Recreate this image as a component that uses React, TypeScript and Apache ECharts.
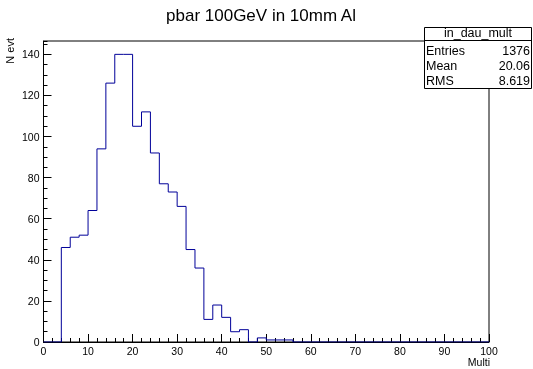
import React, { useEffect, useRef } from "react";
import * as echarts from "echarts";

const titleText = "pbar 100GeV in 10mm Al";
const histName = "in_dau_mult";
const statLabels = ["Entries", "Mean", "RMS"];
const statValues = ["1376", "20.06", "8.619"];
const xTitle = "Multi";
const yTitle = "N evt";
const binLow = 0;
const binWidth = 2;
const counts = [
  0, 0, 46, 51, 52, 64, 94, 126, 140, 140,
  105, 112, 92, 77, 73, 66, 45, 36, 11, 18,
  12, 5, 6, 0, 2, 1, 1, 1, 0, 0,
  0, 0, 0, 0, 0, 0, 0, 0, 0, 0,
  0, 0, 0, 0, 0, 0, 0, 0, 0, 0,
];

const FONT = "Liberation Sans, Arial, Helvetica, sans-serif";

export default function App() {
  const ref = useRef<HTMLDivElement>(null);
  useEffect(() => {
    if (!ref.current) return;
    const chart = echarts.init(ref.current, null, { renderer: "svg" });
    const pts: [number, number][] = counts.map((c, i) => [binLow + i * binWidth, c]);
    pts.push([binLow + counts.length * binWidth, counts[counts.length - 1]]);

    const rowY = [51, 66, 81];
    const graphics: any[] = [
      {
        type: "text",
        x: 261,
        y: 15,
        style: { text: titleText, font: `17px ${FONT}`, fill: "#000", textAlign: "center", textVerticalAlign: "middle" },
      },
      {
        type: "text",
        x: 10,
        y: 38,
        rotation: Math.PI / 2,
        style: { text: yTitle, font: `11px ${FONT}`, fill: "#000", textAlign: "right", textVerticalAlign: "middle" },
      },
      {
        type: "text",
        x: 490,
        y: 362,
        style: { text: xTitle, font: `10.5px ${FONT}`, fill: "#000", textAlign: "right", textVerticalAlign: "middle" },
      },
      {
        type: "rect",
        shape: { x: 424.5, y: 27.5, width: 107, height: 61 },
        style: { fill: "#fff", stroke: "#000", lineWidth: 1 },
        z: 100,
      },
      {
        type: "line",
        shape: { x1: 424.5, y1: 40.5, x2: 531.5, y2: 40.5 },
        style: { stroke: "#000", lineWidth: 1 },
        z: 101,
      },
      {
        type: "text",
        x: 478,
        y: 32.5,
        z: 101,
        style: { text: histName, font: `12.5px ${FONT}`, fill: "#000", textAlign: "center", textVerticalAlign: "middle" },
      },
    ];
    statLabels.forEach((l, i) => {
      graphics.push({
        type: "text", x: 426, y: rowY[i], z: 101,
        style: { text: l, font: `12.5px ${FONT}`, fill: "#000", textAlign: "left", textVerticalAlign: "middle" },
      });
      graphics.push({
        type: "text", x: 530, y: rowY[i], z: 101,
        style: { text: statValues[i], font: `12.5px ${FONT}`, fill: "#000", textAlign: "right", textVerticalAlign: "middle" },
      });
    });

    chart.setOption({
      animation: false,
      grid: {
        left: 43.5, right: 44, top: 41, bottom: 27,
        show: true, borderColor: "#000", borderWidth: 1, backgroundColor: "transparent",
      },
      xAxis: {
        type: "value", min: 0, max: 100, interval: 10,
        axisLine: { show: true, lineStyle: { color: "#000", width: 1 } },
        axisTick: { show: true, inside: true, length: 8, lineStyle: { color: "#000" } },
        minorTick: { show: true, splitNumber: 5, length: 4, lineStyle: { color: "#000" } },
        splitLine: { show: false },
        axisLabel: { color: "#000", fontSize: 10.5, fontFamily: FONT, margin: 3 },
      },
      yAxis: [
        {
          type: "value", min: 0, max: 146.5, interval: 20,
          axisLine: { show: true, lineStyle: { color: "#000", width: 1 } },
          axisTick: { show: true, inside: true, length: 8, lineStyle: { color: "#000" } },
          splitLine: { show: false },
          axisLabel: { color: "#000", fontSize: 10.5, fontFamily: FONT, margin: 4, showMaxLabel: false },
        },
        {
          type: "value", min: 0, max: 146.5, interval: 5, position: "left", offset: 0,
          axisLine: { show: false },
          axisTick: { show: true, inside: true, length: 4, lineStyle: { color: "#000" } },
          splitLine: { show: false },
          axisLabel: { show: false },
        },
      ],
      series: [
        {
          type: "line",
          step: "end",
          data: pts,
          yAxisIndex: 0,
          symbol: "none",
          lineStyle: { color: "#000099", width: 1 },
        },
      ],
      graphic: graphics,
    });
    return () => chart.dispose();
  }, []);
  return <div ref={ref} style={{ width: 533, height: 369, position: "fixed", left: 0, top: 0 }} />;
}
